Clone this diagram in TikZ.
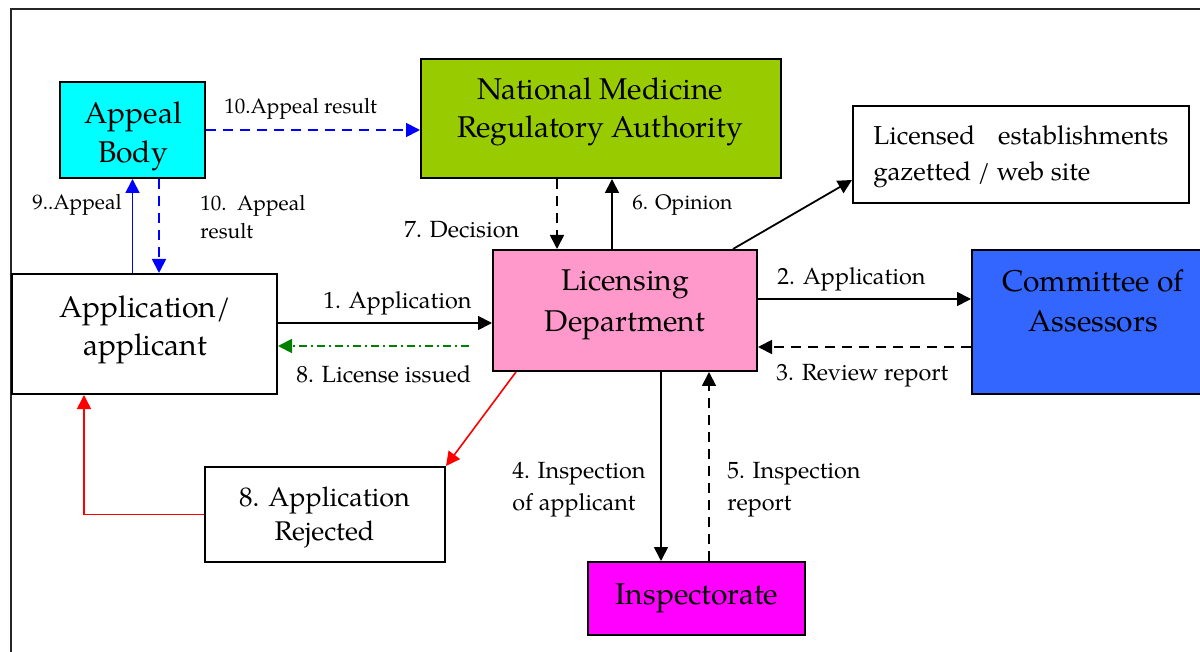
\documentclass[tikz,border=0pt]{standalone}
\usepackage{fontspec}
\setmainfont{TeX Gyre Pagella}
\usetikzlibrary{arrows.meta,calc}
\definecolor{cyanbox}{HTML}{00FFFF}
\definecolor{greenbox}{HTML}{99CC00}
\definecolor{pinkbox}{HTML}{FF99CC}
\definecolor{bluebox}{HTML}{3366FF}
\definecolor{magbox}{HTML}{FF00FF}
\definecolor{arrblue}{HTML}{0000FF}
\definecolor{arrgreen}{HTML}{008000}
\definecolor{arrred}{HTML}{FF0000}
\begin{document}
\begin{tikzpicture}[x=0.5pt,y=-0.5pt,
  box/.style={draw=black, line width=1pt, inner sep=0pt, rectangle},
  bigtxt/.style={font=\fontsize{15}{19.5}\selectfont, inner sep=0pt, anchor=base},
  midtxt/.style={font=\fontsize{13}{17}\selectfont, inner sep=0pt, anchor=base},
  smalltxt/.style={font=\fontsize{10.5}{14}\selectfont, inner sep=0pt, anchor=base west},
  labtxt/.style={font=\fontsize{11.7}{15}\selectfont, inner sep=0pt, anchor=base west},
  arr/.style={line width=0.9pt, -{Triangle[length=7pt,width=7pt]}},
  dsh/.style={dash pattern=on 5pt off 3.5pt},
  dashdot/.style={dash pattern=on 4pt off 2pt on 1pt off 2pt}]
\useasboundingbox (0,0) rectangle (1200,652);

% outer frame (partly outside the picture)
\draw[line width=0.9pt, black!85] (11,660) -- (11,9) -- (1210,9);

% boxes
\node[box, fill=cyanbox, minimum width=72.5pt, minimum height=48pt] (ab) at (132.5,130) {};
\node[box, fill=greenbox, minimum width=180pt, minimum height=59.5pt] (nmra) at (601,118.5) {};
\node[box, fill=white, minimum width=168pt, minimum height=48.5pt] (lic) at (1021,154.5) {};
\node[box, fill=pinkbox, minimum width=132pt, minimum height=60.5pt] (ld) at (625,310.5) {};
\node[box, fill=bluebox, minimum width=119pt, minimum height=72pt] (com) at (1091,322) {};
\node[box, fill=white, minimum width=132.5pt, minimum height=60pt] (app) at (144.5,334) {};
\node[box, fill=white, minimum width=120pt, minimum height=47.5pt] (rej) at (325,514.5) {};
\node[box, fill=magbox, minimum width=108.5pt, minimum height=36.5pt] (insp) at (696.5,598.5) {};

% box texts
\node[bigtxt] (abt1) at (133,124) {Appeal};
\node[bigtxt] (abt2) at (133,163) {Body};
\node[bigtxt] (nmt1) at (600,100) {National Medicine};
\node[bigtxt] (nmt2) at (600,138) {Regulatory Authority};
\node[midtxt, anchor=base west] (lict1) at (873,145) {\makebox[147.5pt][s]{Licensed establishments}};
\node[midtxt, anchor=base west] (lict2) at (873,181) {gazetted / web site};
\node[bigtxt] (ldt1) at (625,291) {Licensing};
\node[bigtxt] (ldt2) at (625,332) {Department};
\node[bigtxt] (comt1) at (1093,292) {Committee of};
\node[bigtxt] (comt2) at (1093,332) {Assessors};
\node[bigtxt] (appt1) at (145,318) {Application/};
\node[bigtxt] (appt2) at (145,356) {applicant};
\node[midtxt, font=\fontsize{13.5}{17}\selectfont] (rejt1) at (324.5,506) {8. Application};
\node[midtxt, font=\fontsize{13.5}{17}\selectfont] (rejt2) at (324.5,540) {Rejected};
\node[bigtxt] (inspt) at (697,604) {Inspectorate};

% blue connectors
\draw[arr, arrblue] (app.north -| ab.south) -- (ab.south);
\draw[arr, arrblue, dsh] ([xshift=13.25pt]ab.south) -- ([xshift=13.25pt]ab.south |- app.north);
\draw[arr, arrblue, dsh] (ab.east) -- (ab.east -| nmra.west);

% NMRA <-> LD
\draw[arr, dsh] ([xshift=-22pt]nmra.south) -- ([xshift=-22pt]nmra.south |- ld.north);
\draw[arr] ([xshift=-6.5pt]ld.north) -- ([xshift=-6.5pt]ld.north |- nmra.south);
\draw[arr] ([xshift=54pt]ld.north) -- ([yshift=-12.75pt]lic.west);

% LD <-> Committee
\draw[arr] ([yshift=5.75pt]ld.east) -- ([yshift=5.75pt]ld.east -| com.west);
\draw[arr, dsh] ([yshift=-18.25pt]ld.east -| com.west) -- ([yshift=-18.25pt]ld.east);

% Applicant <-> LD
\draw[arr] ([yshift=-6.25pt]ld.west -| app.east) -- ([yshift=-6.25pt]ld.west);
\coordinate (licstart) at ([xshift=-11.5pt,yshift=-17.75pt]ld.west);
\draw[arr, arrgreen, dashdot] (licstart) -- (licstart -| app.east);

% rejection
\draw[arr, arrred, line width=0.8pt] ([xshift=12pt]ld.south west) -- (rej.north east);
\draw[arr, arrred, line width=0.8pt] (rej.west) -| ([xshift=-30.25pt]app.south);

% LD <-> Inspectorate
\draw[arr] ([xshift=18pt]ld.south) -- ([xshift=18pt]ld.south |- insp.north);
\draw[arr, dsh] ([xshift=42pt]ld.south |- insp.north) -- ([xshift=42pt]ld.south);

% labels
\node[smalltxt] (l10a) at (224,114) {10.Appeal result};
\node[smalltxt] (l9) at (32,210) {9..Appeal};
\node[smalltxt] (l10b1) at (200,211) {\makebox[52.5pt][s]{10. Appeal}};
\node[smalltxt] (l10b2) at (200,239) {result};
\node[labtxt] (l7) at (404,238) {7. Decision};
\node[smalltxt] (l6) at (632,210) {6. Opinion};
\node[labtxt] (l2) at (777,285) {2. Application};
\node[labtxt] (l3) at (776,380) {3. Review report};
\node[labtxt] (l1) at (323,309) {1. Application};
\node[labtxt] (l8) at (296,382) {8. License issued};
\node[labtxt] (l4a) at (512,478) {4. Inspection};
\node[labtxt] (l4b) at (512,510) {of applicant};
\node[labtxt] (l5a) at (727,478) {5. Inspection};
\node[labtxt] (l5b) at (727,510) {report};
\end{tikzpicture}
\end{document}
